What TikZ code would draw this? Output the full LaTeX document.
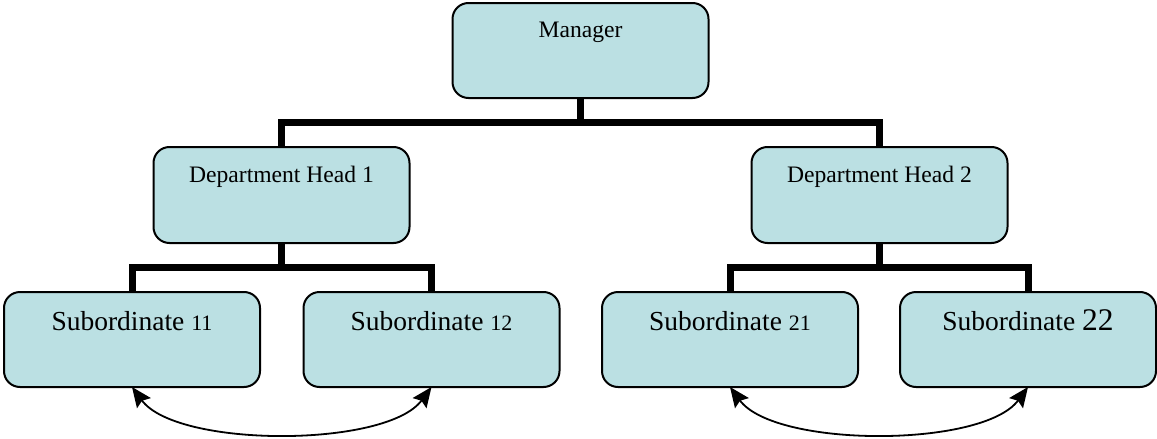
\documentclass[tikz,border=0pt]{standalone}
\usepackage{fontspec}
\setmainfont{Liberation Serif}
\usetikzlibrary{arrows.meta}
\definecolor{boxblue}{RGB}{187,224,227}
\begin{document}
\begin{tikzpicture}[x=1pt,y=-1pt,
  orgbox/.style={draw=black, line width=2pt, fill=boxblue, rounded corners=16pt,
    minimum width=256pt, inner sep=0pt, font=\fontsize{23.6}{28}\selectfont},
  topbox/.style={orgbox, text height=34pt, text depth=61pt},
  headbox/.style={orgbox, text height=35pt, text depth=61pt},
  subbox/.style={orgbox, text height=38pt, text depth=57pt},
  bus/.style={line width=7pt, line join=miter},
  tipa/.tip={Stealth[length=20pt,width=17pt,inset=3pt]},
  peer/.style={line width=1.8pt, tipa-tipa}
]
\useasboundingbox (0,0) rectangle (1157,439);
\newcommand{\subsz}{\fontsize{27.5}{32}\selectfont}
\newcommand{\numsz}{\fontsize{22}{26}\selectfont}
\newcommand{\bignum}{\fontsize{31.5}{36}\selectfont}

\node[topbox]  (mgr) at (580.5,50.5) {Manager};
\node[headbox] (d1)  at (281.5,195)  {Department Head 1};
\node[headbox] (d2)  at (879.5,195)  {Department Head 2};
\node[subbox]  (s11) at (132,339.5)  {\subsz Subordinate {\numsz 11}};
\node[subbox]  (s12) at (431.5,339.5){\subsz Subordinate {\numsz 12}};
\node[subbox]  (s21) at (730,339.5)  {\subsz Subordinate {\numsz 21}};
\node[subbox]  (s22) at (1028,339.5) {\subsz Subordinate {\bignum 22}};

\coordinate (b1) at (580.5,122);
\coordinate (b2) at (281.5,267);
\coordinate (b3) at (879.5,267);

\draw[bus] (mgr.south) -- (b1);
\draw[bus] (d1.north) |- (b1) -| (d2.north);
\draw[bus] (d1.south) -- (b2);
\draw[bus] (s11.north) |- (b2) -| (s12.north);
\draw[bus] (d2.south) -- (b3);
\draw[bus] (s21.north) |- (b3) -| (s22.north);

\draw[peer] ([yshift=1pt]s11.south) .. controls +(45,61) and +(-45,61) .. ([yshift=1pt]s12.south);
\draw[peer] ([yshift=1pt]s21.south) .. controls +(45,61) and +(-45,61) .. ([yshift=1pt]s22.south);
\end{tikzpicture}
\end{document}
